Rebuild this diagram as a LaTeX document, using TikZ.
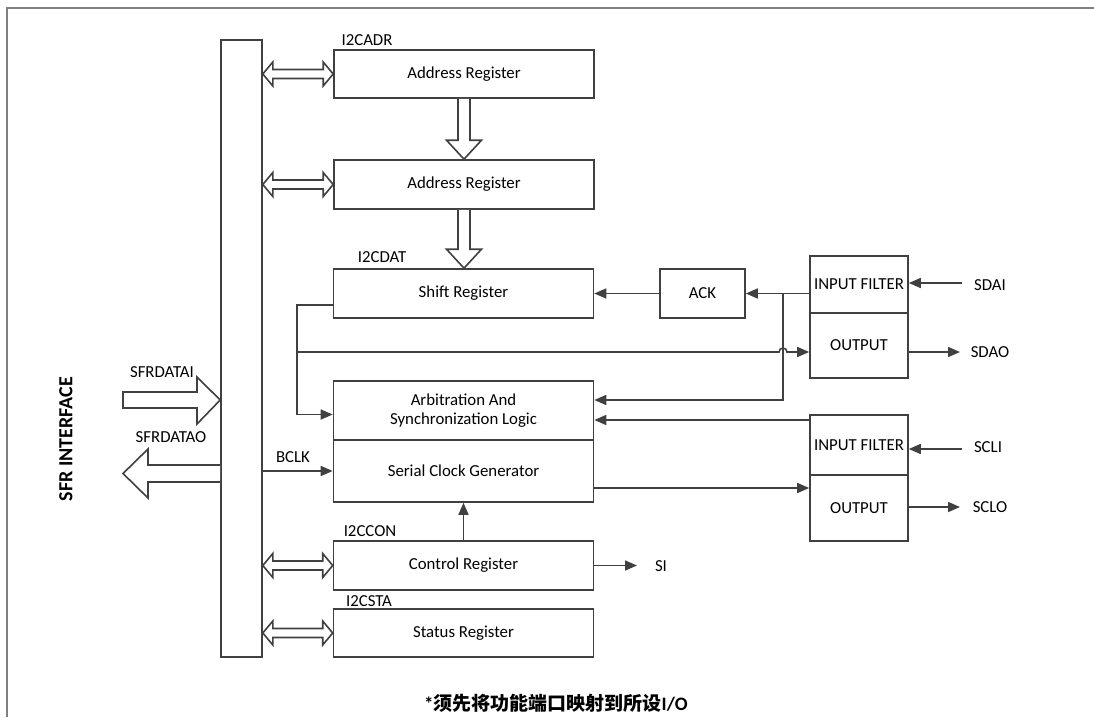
\documentclass[tikz,border=0pt]{standalone}
\usepackage{fontspec}
\setmainfont{Carlito}
\newfontfamily\cjk{Noto Sans CJK SC}
\usetikzlibrary{arrows.meta,calc}
\definecolor{ln}{HTML}{404040}
\tikzset{
  base/.style={line width=1.6pt, draw=ln},
  box/.style={base, minimum width=260pt, inner sep=0pt, align=center},
  iobox/.style={base, minimum width=98pt, inner sep=0pt, align=center},
  arr/.style={base, -{Triangle[length=12pt,width=10pt]}},
  hollow/.style={base, fill=white, line join=miter},
  lbl/.style={inner sep=0pt, text=black},
  every node/.style={font=\fontsize{16.8}{19.5}\selectfont}
}
\newcommand\dblarrow[2]{%
  \draw[hollow] let \p1=(#1), \p2=(#2) in
    (\x1,\y1) -- (\x1+10pt,\y1+12pt) -- (\x1+10pt,\y1+4.5pt) -- (\x2-10pt,\y1+4.5pt)
    -- (\x2-10pt,\y1+12pt) -- (\x2,\y1) -- (\x2-10pt,\y1-12pt) -- (\x2-10pt,\y1-4.5pt)
    -- (\x1+10pt,\y1-4.5pt) -- (\x1+10pt,\y1-12pt) -- cycle;}
\begin{document}
\begin{tikzpicture}[x=1pt,y=-1pt]
\useasboundingbox (0,0) rectangle (1094,717);
\draw[line width=1.2pt, draw=gray] (7,717) -- (7,8) -- (1094,8);

% bus
\node[base, minimum width=41pt, minimum height=617pt, inner sep=0pt] (bus) at (241.5,348.5) {};

% registers
\node[box, minimum height=48pt] (adr1) at (464,74) {Address Register};
\node[box, minimum height=49pt] (adr2) at (464,184.5) {Address Register};
\node[box, minimum height=49pt] (shift) at (463.5,293.5) {Shift Register};
\node[base, minimum width=85pt, minimum height=49pt, inner sep=0pt] (ack) at (702.5,293.5) {ACK};
\node[box, minimum height=59pt] (arb) at (463.5,410.5) {Arbitration And\\Synchronization Logic};
\node[box, minimum height=62pt] (scg) at (463.5,471) {Serial Clock Generator};
\node[box, minimum height=49pt] (ctrl) at (463.5,565.5) {Control Register};
\node[box, minimum height=48pt] (stat) at (463.5,633) {Status Register};

% io blocks
\node[iobox, minimum height=57pt] (if1) at (859,284.5) {INPUT FILTER};
\node[iobox, minimum height=65pt] (out1) at (859,345.5) {OUTPUT};
\node[iobox, minimum height=60pt] (if2) at (859,445) {INPUT FILTER};
\node[iobox, minimum height=66pt] (out2) at (859,508) {OUTPUT};

% labels
\node[lbl] (l1) at (367,40) {I2CADR};
\node[lbl] (l2) at (382,257) {I2CDAT};
\node[lbl] (l3) at (370,531) {I2CCON};
\node[lbl] (l4) at (369,601) {I2CSTA};
\node[lbl] (sfri) at (162,372) {SFRDATAI};
\node[lbl] (sfro) at (171,437) {SFRDATAO};
\node[lbl] (bclk) at (293,457) {BCLK};
\node[lbl] (si) at (661,566) {SI};
\node[lbl] (sdai) at (990,285) {SDAI};
\node[lbl] (sdao) at (990,352) {SDAO};
\node[lbl] (scli) at (988,447) {SCLI};
\node[lbl] (sclo) at (990,507) {SCLO};
\node[lbl, rotate=90, font=\fontsize{20}{24}\selectfont\bfseries] (sfr) at (66,439) {SFR INTERFACE};
\node[lbl, font=\fontsize{19}{22}\selectfont\bfseries] (note) at (556,703) {*{\cjk\bfseries 须先将功能端口映射到所设}I/O};

% double hollow arrows bus <-> registers
\dblarrow{bus.east|-adr1.west}{adr1.west}
\dblarrow{bus.east|-adr2.west}{adr2.west}
\dblarrow{bus.east|-ctrl.west}{ctrl.west}
\dblarrow{bus.east|-stat.west}{stat.west}

% hollow arrow adr1 -> adr2
\draw[hollow] let \p1=(adr1.south), \p2=(adr2.north) in
  (\x1-6pt,\y1) -- (\x1-6pt,\y2+19pt) -- (\x1-17.5pt,\y2+19pt) -- (\x1,\y2)
  -- (\x1+17.5pt,\y2+19pt) -- (\x1+6pt,\y2+19pt) -- (\x1+6pt,\y1);
% hollow arrow adr2 -> shift
\draw[hollow] let \p1=(adr2.south), \p2=(shift.north) in
  (\x1-6pt,\y1) -- (\x1-6pt,\y2+19pt) -- (\x1-17.5pt,\y2+19pt) -- (\x1,\y2)
  -- (\x1+17.5pt,\y2+19pt) -- (\x1+6pt,\y2+19pt) -- (\x1+6pt,\y1);

% SFRDATAI / SFRDATAO
\coordinate (sfriT) at (bus.west|-0,400);
\draw[hollow] let \p1=(sfriT) in
  (123,392) -- (197,392) -- (197,377) -- (\x1,\y1) -- (197,424) -- (197,408) -- (123,408) -- cycle;
\coordinate (sfroT) at (bus.west|-0,473.5);
\draw[hollow] let \p1=(sfroT) in
  (\x1,465) -- (148,465) -- (148,449) -- (123,\y1) -- (148,498) -- (148,482) -- (\x1,482);

% connectors
\draw[arr] (if1.west|-ack.east) -- (ack.east);
\draw[arr] (ack.west) -- (shift.east);
\coordinate (j1) at (783,293.5);
\coordinate (arbin1) at ([yshift=10.5pt]arb.east);
\coordinate (arbin2) at ([yshift=-9.5pt]arb.east);
\draw[arr] (j1) |- (arbin1);
\draw[arr] (if2.west|-arbin2) -- (arbin2);
\coordinate (lx) at (297,352);
\draw[arr] ([yshift=-11.5pt]shift.west) -| (lx) |- ([yshift=-4pt]arb.west);
\coordinate (hop) at (783,352);
\draw[arr] (lx) -- ([xshift=-4pt]hop) arc[start angle=180, end angle=0, radius=4pt] -- (out1.west|-lx);
\coordinate (scgout) at ([yshift=-17pt]scg.east);
\draw[arr] (scgout) -- (out2.west|-scgout);
\draw[arr] (bus.east|-scg.west) -- (scg.west);
\draw[arr] (ctrl.north) -- (scg.south);
\coordinate (siend) at (637,565.5);
\draw[arr] (ctrl.east) -- (siend);
\coordinate (sdaiS) at (962,283);
\draw[arr] (sdaiS) -- (if1.east|-sdaiS);
\coordinate (sdaoE) at (960,352);
\draw[arr] (out1.east|-sdaoE) -- (sdaoE);
\coordinate (scliS) at (962,449);
\draw[arr] (scliS) -- (if2.east|-scliS);
\coordinate (scloE) at (960,507);
\draw[arr] (out2.east|-scloE) -- (scloE);
\end{tikzpicture}
\end{document}
